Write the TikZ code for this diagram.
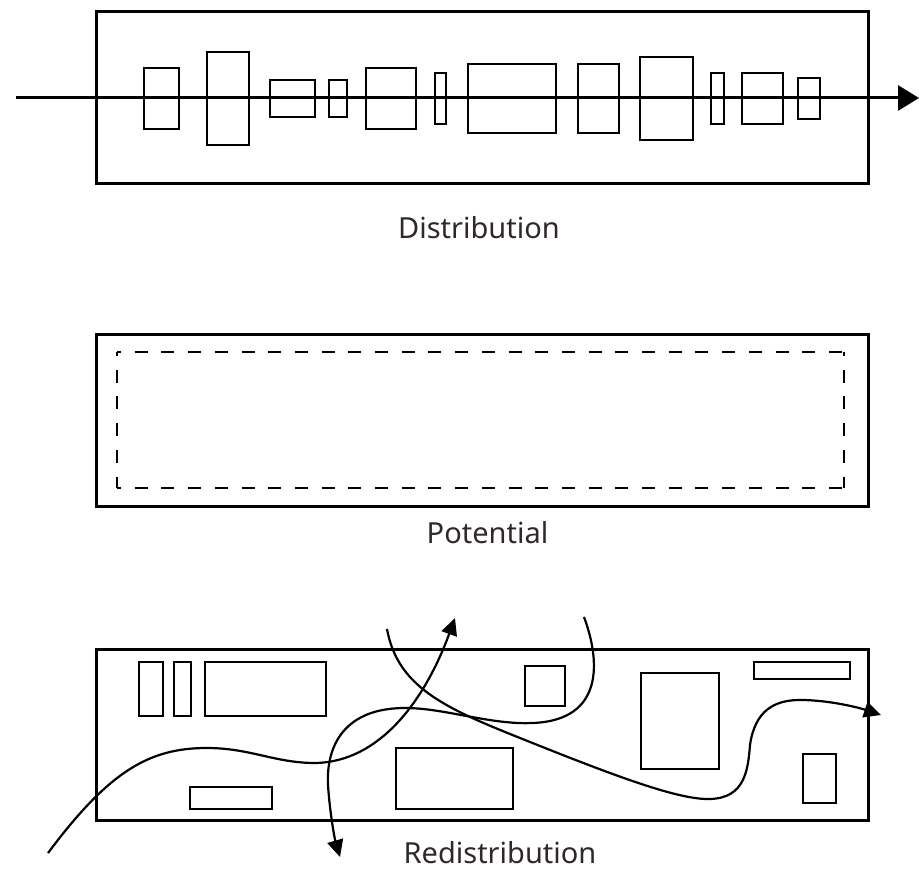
\documentclass[tikz,border=0pt]{standalone}
\usepackage{fontspec}
\setmainfont{Noto Sans}
\usetikzlibrary{arrows.meta}
\definecolor{txt}{HTML}{2F2828}
\tikzset{
  frame/.style={line width=3pt, draw=black},
  box/.style={line width=2.6pt, draw=black},
  flow/.style={line width=2.2pt, draw=black, -{Triangle[length=17pt,width=16pt]}},
  axis/.style={line width=3pt, draw=black, -{Triangle[length=21pt,width=25pt]}},
  dashline/.style={line width=2.6pt, draw=black, dash pattern=on 13pt off 13.7pt, dash phase=9pt},
  caption/.style={font=\fontsize{29}{34}\selectfont, text=txt, anchor=base, inner sep=0pt}
}
\begin{document}
\begin{tikzpicture}[x=1pt,y=-1pt]
\useasboundingbox (0,0) rectangle (919,872);
% ---------- Distribution ----------
\draw[frame] (96,12) rectangle (868,184);
\foreach \a/\b/\c/\d in {144/68/179/129, 207/52/249/145, 270/80/315/117, 329/80/347/117,
  366/68/416/129, 435/73/446/124, 468/64/556/133, 578/64/619/133, 640/57/693/140,
  711/73/724/124, 742/73/783/124, 798/78/820/119}
  \draw[box] (\a,\b) rectangle (\c,\d);
\coordinate (axS) at (16,98);
\coordinate (axE) at (919,98);
\draw[axis] (axS) -- (axE);
\node[caption] (dist) at (479,238) {Distribution};
% ---------- Potential ----------
\draw[frame] (96,334) rectangle (868,506);
\draw[dashline] (117,352) -- (844,352);
\draw[dashline] (117,488) -- (844,488);
\draw[dashline] (117,352) -- (117,488);
\draw[dashline] (844,352) -- (844,488);
\node[caption] (pot) at (487.5,543) {Potential};
% ---------- Redistribution ----------
\draw[frame] (96,649) rectangle (868,820);
\foreach \a/\b/\c/\d in {139/662/163/716, 174/662/191/716, 205/662/326/716,
  190/787/272/809, 396/748/513/809, 525/666/565/706, 641/673/719/769,
  754/662/850/679, 803/754/836/803}
  \draw[box] (\a,\b) rectangle (\c,\d);
\coordinate (aS) at (48,853);
\coordinate (aE) at (455,618);
\coordinate (bS) at (387,629);
\coordinate (bE) at (881,715);
\coordinate (cS) at (584,617);
\coordinate (cE) at (340,857);
\draw[flow] (aS) .. controls (110,770) and (150,748) .. (207,748)
  .. controls (250,748) and (275,763) .. (315,763)
  .. controls (380,762) and (425,700) .. (aE);
\draw[flow] (bS) .. controls (398,690) and (450,710) .. (530,742)
  .. controls (620,778) and (680,800) .. (710,799)
  .. controls (745,798) and (748,770) .. (750,745)
  .. controls (755,710) and (775,700) .. (800,700)
  .. controls (830,700) and (860,708) .. (bE);
\draw[flow] (cS) .. controls (600,660) and (605,720) .. (533,723)
  .. controls (490,725) and (445,708) .. (405,708)
  .. controls (345,708) and (326,745) .. (328,785)
  .. controls (330,815) and (335,840) .. (cE);
\node[caption] (redist) at (500,863) {Redistribution};
\end{tikzpicture}
\end{document}
